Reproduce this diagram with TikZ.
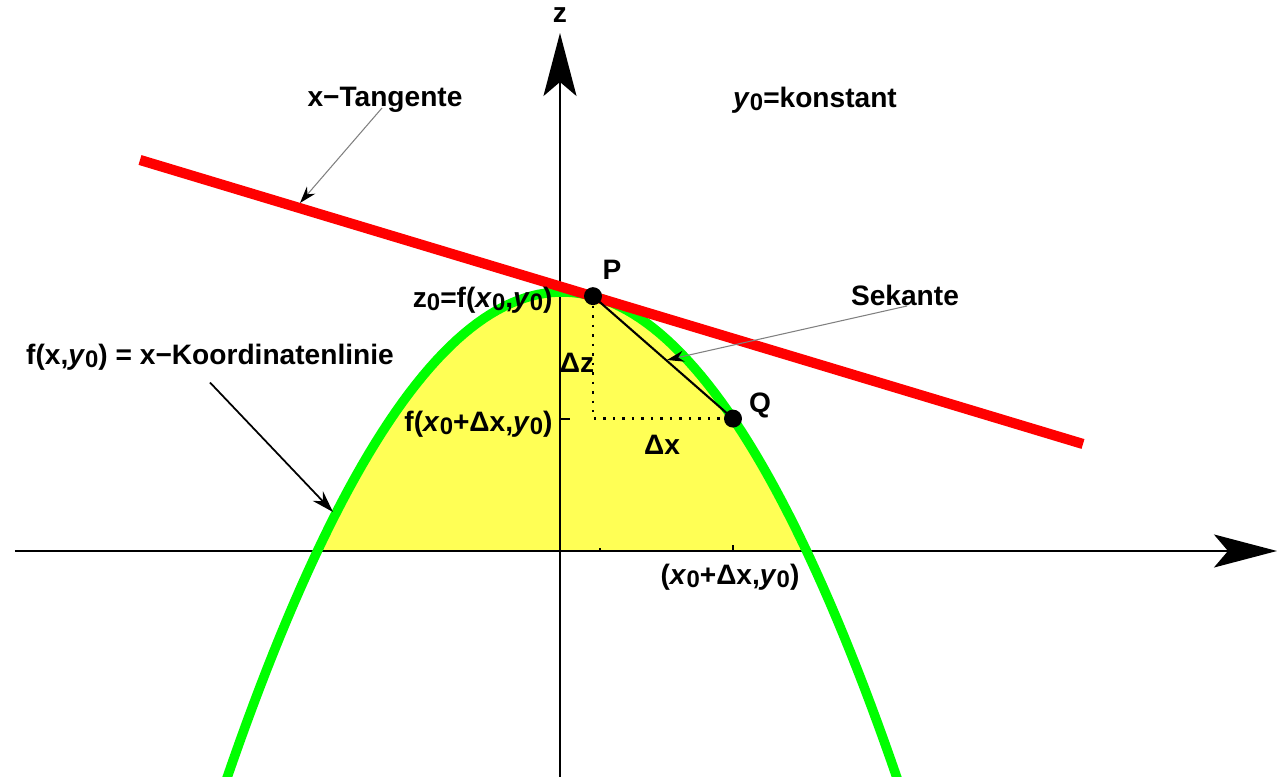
\documentclass[tikz,border=0pt]{standalone}
\usepackage{fontspec}
\setmainfont{Liberation Sans}
\usetikzlibrary{arrows.meta,calc}
\definecolor{areayellow}{RGB}{255,255,85}
\definecolor{curvegreen}{RGB}{0,255,0}
\newcommand{\subz}[1]{\raisebox{-0.12em}{\fontsize{6.8}{8}\selectfont#1}}
\newcommand{\xnull}{\textit{x}\subz{0}}
\newcommand{\ynull}{\textit{y}\subz{0}}
\begin{document}
\begin{tikzpicture}[x=1cm,y=1cm,>=Stealth,
		every node/.style={font=\fontsize{8}{9.6}\selectfont\bfseries},
		declare function={f(\t)=2.59-0.433*(\t-0.02)^2;}]
		\useasboundingbox (-5.60,-2.26) rectangle (7.24,5.51);
		\coordinate (O) at (0,0);
		\coordinate (P) at (0.33,{f(0.33)});
		\coordinate (Q) at (1.73,{f(1.73)});
		\coordinate (R) at (P |- Q);
		\fill[areayellow] plot[domain=-2.426:2.466,samples=80] (\x,{f(\x)}) -- cycle;
		\draw[line width=0.6pt,-{Stealth[length=6.3mm,width=3.3mm,inset=1.4mm]}] (-5.45,0) -- (7.17,0);
		\draw[line width=0.6pt,-{Stealth[length=6.3mm,width=3.3mm,inset=1.4mm]}] (0,-2.26) -- (0,5.18);
		\draw[line width=0.6pt] (O |- P) -- ++(0.1,0);
		\draw[line width=0.6pt] (O |- Q) -- ++(0.1,0);
		\draw[line width=0.6pt] (0.40,0) -- ++(0,0.03);
		\draw[line width=0.6pt] (Q |- O) -- ++(0,0.06);
		\draw[curvegreen,line width=2.7pt] plot[domain=-3.34:3.38,samples=100] (\x,{f(\x)});
		\draw[red,line width=2.9pt] (-4.20,3.91) -- (5.23,1.07);
		\draw[dotted,line width=0.7pt] (P) -- (R) -- (Q);
		\draw[line width=0.6pt] (P) -- (Q);
		\fill (P) circle (0.09);
		\fill (Q) circle (0.09);
		\node (zlbl) at (0,5.36) {z};
		\node (tanlbl) at (-1.75,4.51) {x−Tangente};
		\node (konstlbl) at (2.55,4.51) {\ynull=konstant};
		\node (plbl) at (0.52,2.81) {P};
		\node (qlbl) at (2.00,1.46) {Q};
		\node (seklbl) at (3.45,2.56) {Sekante};
		\node[anchor=east] (zolbl) at (0.05,2.51) {z\subz{0}=f(\xnull,\ynull)};
		\node[anchor=east] (fqlbl) at (0.05,1.27) {f(\xnull+Δx,\ynull)};
		\node (dzlbl) at (0.17,1.88) {Δz};
		\node (dxlbl) at (1.02,1.06) {Δx};
		\node (koordlbl) at (-3.50,1.94) {f(x,\ynull) = x−Koordinatenlinie};
		\node (xqlbl) at (1.70,-0.26) {(\xnull+Δx,\ynull)};
		\coordinate (tanpt) at (-2.60,3.48);
		\coordinate (sekpt) at (1.07,1.91);
		\coordinate (koordpt) at (-2.27,0.39);
		\draw[gray,line width=0.3pt,-{Stealth[length=1.7mm,width=1.1mm,black]}] ([shift={(-0.03,-0.08)}]tanlbl.center) -- (tanpt);
		\draw[gray,line width=0.3pt,-{Stealth[length=1.7mm,width=1.1mm,black]}] ([shift={(0.02,-0.11)}]seklbl.center) -- (sekpt);
		\draw[line width=0.5pt,-{Stealth[length=2.2mm,width=1.4mm]}] (koordlbl.south) -- (koordpt);
	\end{tikzpicture}
\end{document}
